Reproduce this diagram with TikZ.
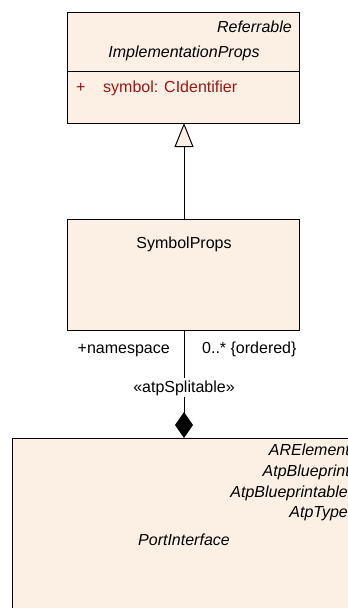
\documentclass[tikz,border=0pt]{standalone}
\usepackage{fontspec}
\setmainfont{Liberation Sans}
\usetikzlibrary{arrows.meta}
\definecolor{cream}{RGB}{251,240,227}
\definecolor{attrred}{RGB}{160,20,20}
\begin{document}
\begin{tikzpicture}[x=1pt,y=-1pt,
  umlbox/.style={draw=black,line width=1pt,fill=cream,inner sep=0pt,anchor=north west},
  lbl/.style={inner sep=0pt,font=\fontsize{16}{19}\selectfont},
  conn/.style={draw=black,line width=1pt}]
\useasboundingbox (0,0) rectangle (348,608);
\clip (0,0) rectangle (348,608);
% boxes
\node[umlbox,minimum width=232pt,minimum height=111pt] (ip) at (67,12) {};
\node[umlbox,minimum width=232pt,minimum height=111pt] (sp) at (67,219) {};
\node[umlbox,minimum width=360pt,minimum height=200pt] (pi) at (12,438) {};
\draw[line width=1pt] (ip.west |- 0,71) -- (ip.east |- 0,71);
% texts top box
\node[lbl,anchor=base east,font=\fontsize{16}{19}\selectfont\itshape] (t1) at (292,32) {Referrable};
\node[lbl,anchor=base,font=\fontsize{16}{19}\selectfont\itshape] (t2) at (184,57) {ImplementationProps};
\node[lbl,anchor=base west,text=attrred] (t3) at (76,92) {+};
\node[lbl,anchor=base west,text=attrred] (t4) at (103,92) {symbol: CIdentifier};
% symbolprops
\node[lbl,anchor=base] (t5) at (184,248) {SymbolProps};
% bottom box texts
\node[lbl,anchor=base east,font=\fontsize{16}{19}\selectfont\itshape] (b1) at (350,455) {ARElement};
\node[lbl,anchor=base east,font=\fontsize{16}{19}\selectfont\itshape] (b2) at (350,476) {AtpBlueprint};
\node[lbl,anchor=base east,font=\fontsize{16}{19}\selectfont\itshape] (b3) at (348,497) {AtpBlueprintable};
\node[lbl,anchor=base east,font=\fontsize{16}{19}\selectfont\itshape] (b4) at (348,517) {AtpType};
\node[lbl,anchor=base,font=\fontsize{16}{19}\selectfont\itshape] (b5) at (184,545) {PortInterface};
% generalization
\coordinate (gtop) at (184,123);
\coordinate (gbot) at (184,219);
\draw[conn,-{Triangle[length=24pt,width=19pt,fill=cream,line width=1pt]}] (gbot) -- (gtop);
% composition
\coordinate (ctop) at (184,330);
\coordinate (cbot) at (184,438);
\draw[conn,-{Diamond[length=26pt,width=18pt,fill=black,line width=1pt]}] (ctop) -- (cbot);
\node[lbl,anchor=base,fill=white,inner xsep=1pt,inner ysep=2pt] (st) at (184,392) {«atpSplitable»};
\node[lbl,anchor=base east] (rn) at (170,353) {+namespace};
\node[lbl,anchor=base west] (mu) at (202,353) {0..* \{ordered\}};
\end{tikzpicture}
\end{document}
